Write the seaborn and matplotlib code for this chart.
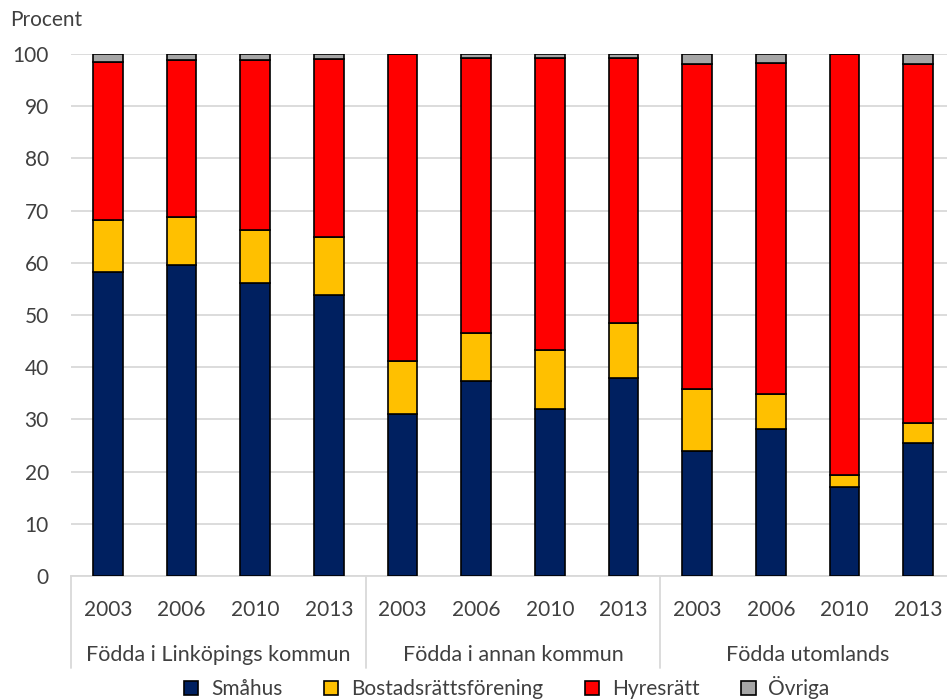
import seaborn as sns
import matplotlib.pyplot as plt
import pandas as pd
from matplotlib.patches import Patch

# Data (percent)
groups = ['Födda i Linköpings kommun', 'Födda i annan kommun', 'Födda utomlands']
years = ['2003', '2006', '2010', '2013']
smahus = [58.2, 59.6, 56.2, 53.8, 31.0, 37.4, 32.0, 38.0, 23.9, 28.2, 17.0, 25.4]
bostadsratt = [10.0, 9.2, 10.0, 11.1, 10.1, 9.1, 11.3, 10.5, 12.0, 6.7, 2.4, 3.9]
hyresratt = [30.2, 30.1, 32.7, 34.1, 58.9, 52.7, 55.9, 50.7, 62.1, 63.4, 80.6, 68.7]
ovriga = [1.6, 1.1, 1.1, 1.0, 0.0, 0.8, 0.8, 0.8, 2.0, 1.7, 0.0, 2.0]

series = ['Småhus', 'Bostadsrättsförening', 'Hyresrätt', 'Övriga']
colors = ['#002060', '#ffc000', '#ff0000', '#a6a6a6']

n = len(groups) * len(years)
df = pd.DataFrame({
    'pos': [str(i) for i in range(n)],
    'Småhus': smahus,
    'Bostadsrättsförening': bostadsratt,
    'Hyresrätt': hyresratt,
    'Övriga': ovriga,
})

sns.set_style('white')
plt.rcParams['font.family'] = ['Lato', 'DejaVu Sans']
txt_color = '#404040'
fs = 15

fig = plt.figure(figsize=(9.47, 6.99), dpi=100)
ax = fig.add_axes([0.075, 0.176, 0.9335, 0.7468])

bottom = pd.Series([0.0] * n)
for s, c in zip(series, colors):
    sns.barplot(data=df, x='pos', y=s, order=df['pos'], color=c, saturation=1,
                bottom=bottom.values, width=0.4, edgecolor='black', linewidth=1.2,
                ax=ax, zorder=3)
    bottom = bottom + df[s]

ax.set_xlim(-0.5, n - 0.5)
ax.set_ylim(0, 100)
ax.set_yticks(range(0, 101, 10))
ax.yaxis.grid(True, color='#d9d9d9', linewidth=1.3, zorder=0)
ax.set_axisbelow(True)
for sp in ['left', 'right', 'top']:
    ax.spines[sp].set_visible(False)
ax.spines['bottom'].set_color('#d9d9d9')
ax.spines['bottom'].set_linewidth(1.3)
ax.tick_params(axis='y', length=0, pad=16, labelsize=fs, labelcolor=txt_color)
ax.set_xticks(range(n))
ax.set_xticklabels(years * len(groups))
ax.tick_params(axis='x', length=0, pad=17, labelsize=fs, labelcolor=txt_color)
ax.set_xlabel('')
ax.set_ylabel('')

# group separators and group labels below the axis
trans = ax.get_xaxis_transform()
for k in range(len(groups) + 1):
    xs = k * len(years) - 0.5
    ax.plot([xs, xs], [0, -0.176], transform=trans, color='#d9d9d9',
            linewidth=1.3, clip_on=False)
for k, g in enumerate(groups):
    xc = k * len(years) + (len(years) - 1) / 2
    ax.text(xc, -0.151, g, transform=trans, ha='center', va='center',
            fontsize=15.5, color=txt_color)

fig.text(0.011, 0.971, 'Procent', ha='left', va='center', fontsize=fs, color=txt_color)

handles = [Patch(facecolor=c, edgecolor='black', linewidth=1.2) for c in colors]
fig.legend(handles, series, loc='center', bbox_to_anchor=(0.535, 0.016), ncol=4,
           frameon=False, fontsize=fs, labelcolor=txt_color, handlelength=0.7,
           handleheight=0.7, columnspacing=2.0, handletextpad=0.6)

fig.savefig('out.png', dpi=100)
